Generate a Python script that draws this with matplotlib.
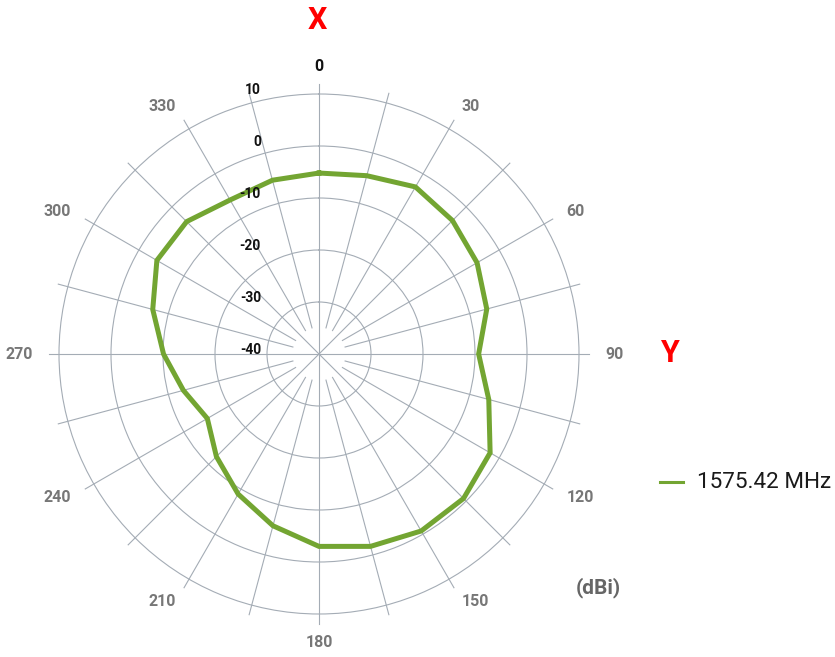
import numpy as np
import matplotlib
matplotlib.use("Agg")
import matplotlib.pyplot as plt
from matplotlib.transforms import offset_copy

plt.rcParams['font.family'] = ['Roboto', 'DejaVu Sans']

# gain pattern, degrees (clockwise from X) -> dBi
angles = [0, 15, 30, 45, 60, 75, 90, 105, 120, 135, 150, 165,
          180, 195, 210, 225, 240, 255, 270, 285, 300, 315, 330, 345]
gain = [-5.2, -4.5, -2.9, -3.7, -4.9, -6.6, -9.3, -6.2, -2.0, -0.7, -0.7, -1.7,
        -3.0, -5.8, -8.9, -12.1, -15.2, -13.0, -10.1, -6.9, -4.0, -4.0, -5.8, -5.4]
r_ticks = [10, 0, -10, -20, -30, -40]
angle_labels = list(range(0, 360, 30))
series_name = "1575.42 MHz"

green = '#73a532'
grid_c = '#a4acb5'

W, H = 835, 657
fig = plt.figure(figsize=(W / 100, H / 100), dpi=100, facecolor='white')
cx, cy, R = 319, 354, 260
ax = fig.add_axes([(cx - R) / W, (H - cy - R) / H, 2 * R / W, 2 * R / H], projection='polar')
ax.set_theta_zero_location('N')
ax.set_theta_direction(-1)
ax.set_ylim(-40, 10)

# rings
ax.set_yticks([-30, -20, -10, 0])
ax.set_yticklabels([])
ax.set_xticks([])
ax.yaxis.grid(True, color=grid_c, lw=0.8)
ax.xaxis.grid(False)
ax.spines['polar'].set_color(grid_c)
ax.spines['polar'].set_linewidth(0.8)

# spokes every 15 degrees
for a in range(0, 360, 15):
    th = np.deg2rad(a)
    r0 = -40 if a % 45 == 0 else -34.8
    ax.plot([th, th], [r0, 11.9], color=grid_c, lw=0.8, clip_on=False, zorder=1)

# pattern
th = np.deg2rad(angles + angles[:1])
ax.plot(th, gain + gain[:1], color=green, lw=3.6, solid_joinstyle='miter', zorder=3)

# radial tick labels
tr = offset_copy(ax.transData, fig=fig, x=-58, y=4, units='dots')
for v in r_ticks:
    ax.text(0, v, str(v), transform=tr, ha='right', va='center',
            fontsize=10, fontweight='bold', color='#111111', clip_on=False)

# angle labels
for a in angle_labels:
    t = np.deg2rad(a)
    if a == 0:
        ha, va, rr, col = 'center', 'bottom', 13.8, '#111111'
    elif a == 180:
        ha, va, rr, col = 'center', 'top', 14.0, '#777777'
    elif a < 180:
        ha, va, rr, col = 'left', 'center', 15.0, '#777777'
    else:
        ha, va, rr, col = 'right', 'center', 15.0, '#777777'
    ax.text(t, rr, str(a), ha=ha, va=va, fontsize=11.5, fontweight='bold',
            color=col, clip_on=False)

# axis names and unit
fig.text(317 / W, 1 - 20 / H, 'X', color='#ff0000', fontsize=22, fontweight='bold',
         ha='center', va='center')
fig.text(669 / W, 1 - 353 / H, 'Y', color='#ff0000', fontsize=22, fontweight='bold',
         ha='center', va='center')
fig.text(598 / W, 1 - 588 / H, '(dBi)', color='#666666', fontsize=15, fontweight='bold',
         ha='center', va='center')

# legend
fig.add_artist(plt.Line2D([660 / W, 683 / W], [1 - 482 / H, 1 - 482 / H],
                          color=green, lw=2.2))
fig.text(697 / W, 1 - 482 / H, series_name, color='#1a1a1a', fontsize=16.2,
         ha='left', va='center')

fig.savefig('out.png', dpi=100, facecolor='white')
